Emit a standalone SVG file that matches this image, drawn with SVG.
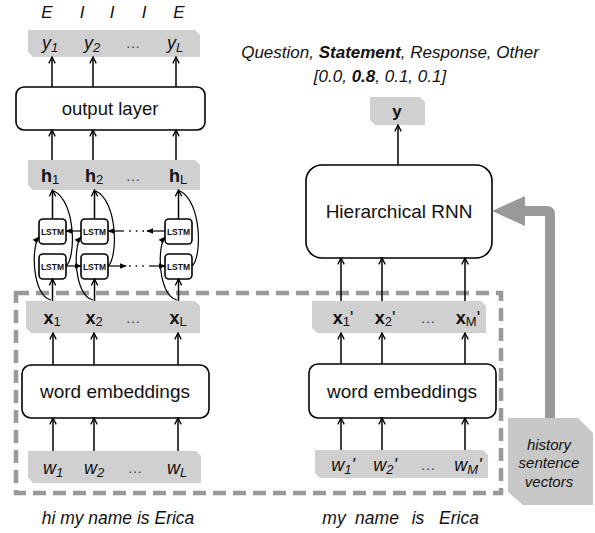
<svg xmlns="http://www.w3.org/2000/svg" width="595" height="533" viewBox="0 0 595 533">
<style>
text{font-family:"Liberation Sans",Arial,sans-serif;fill:#111}
.it{font-style:italic}
.b{font-weight:bold}
.lbl{font-size:18px}
.sub{font-size:13px}
.dots{font-size:15px;fill:#444}
.band{fill:#d0d0d0}
.box{fill:#fff;stroke:#000;stroke-width:1.6}
.lstm{fill:#fff;stroke:#000;stroke-width:1.6}
.lt{font-size:8.5px;font-weight:bold;text-anchor:middle}
.ar{fill:none;stroke:#000;stroke-width:1.5}
.cv{fill:none;stroke:#000;stroke-width:1.2}
.mid{text-anchor:middle}
.cap{font-size:17.5px;font-style:italic}
</style>
<defs>
<marker id="a" viewBox="0 0 10 10" refX="9" refY="5" markerWidth="8" markerHeight="8" markerUnits="userSpaceOnUse" orient="auto">
<path d="M1,1 L9,5 L1,9" fill="none" stroke="#000" stroke-width="1.6"/>
</marker>
<marker id="s" viewBox="0 0 10 10" refX="9" refY="5" markerWidth="7" markerHeight="7" markerUnits="userSpaceOnUse" orient="auto">
<path d="M0,1 L10,5 L0,9 Z" fill="#000"/>
</marker>
</defs>

<g id="dashed-frame">
<rect x="16" y="293" width="485" height="200" fill="none" stroke="#999" stroke-width="4.5" stroke-dasharray="13,7"/>
</g>

<g id="tags">
<text x="47" y="18" class="mid it" font-size="17">E</text>
<text x="82" y="18" class="mid it" font-size="17">I</text>
<text x="112" y="18" class="mid it" font-size="17">I</text>
<text x="144" y="18" class="mid it" font-size="17">I</text>
<text x="179" y="18" class="mid it" font-size="17">E</text>
</g>

<g id="y-band">
<path class="band" d="M28,30 H195 L200,35 V57 H33 L28,52 Z"/>
<text x="50" y="49" class="lbl it mid">y<tspan class="sub" dy="3">1</tspan></text>
<text x="92" y="49" class="lbl it mid">y<tspan class="sub" dy="3">2</tspan></text>
<text x="133" y="48" class="dots mid">…</text>
<text x="175" y="49" class="lbl it mid">y<tspan class="sub" dy="3">L</tspan></text>
</g>

<g id="output-layer">
<rect class="box" x="16" y="87" width="189" height="43" rx="8"/>
<text x="110" y="115" class="mid" font-size="18.5">output layer</text>
</g>

<g id="h-band">
<path class="band" d="M28,160 H195 L200,165 V190 H33 L28,185 Z"/>
<text x="50" y="182" class="lbl mid"><tspan class="b">h</tspan><tspan class="sub" dy="2">1</tspan></text>
<text x="94" y="182" class="lbl mid"><tspan class="b">h</tspan><tspan class="sub" dy="2">2</tspan></text>
<text x="133" y="181" class="dots mid">…</text>
<text x="178" y="182" class="lbl mid"><tspan class="b">h</tspan><tspan class="sub" dy="2">L</tspan></text>
</g>

<g id="lstm-bwd-1"><rect class="lstm" x="39" y="219" width="27" height="25" rx="4"/><text x="52.5" y="234.5" class="lt">LSTM</text></g>
<g id="lstm-bwd-2"><rect class="lstm" x="81" y="219" width="27" height="25" rx="4"/><text x="94.5" y="234.5" class="lt">LSTM</text></g>
<g id="lstm-bwd-L"><rect class="lstm" x="165" y="219" width="27" height="25" rx="4"/><text x="178.5" y="234.5" class="lt">LSTM</text></g>
<g id="lstm-fwd-1"><rect class="lstm" x="39" y="254" width="27" height="25" rx="4"/><text x="52.5" y="269.5" class="lt">LSTM</text></g>
<g id="lstm-fwd-2"><rect class="lstm" x="81" y="254" width="27" height="25" rx="4"/><text x="94.5" y="269.5" class="lt">LSTM</text></g>
<g id="lstm-fwd-L"><rect class="lstm" x="165" y="254" width="27" height="25" rx="4"/><text x="178.5" y="269.5" class="lt">LSTM</text></g>

<g id="x-band">
<path class="band" d="M26,301 H195 L200,306 V333 H31 L26,328 Z"/>
<text x="52" y="324" class="lbl mid"><tspan class="b">x</tspan><tspan class="sub" dy="2">1</tspan></text>
<text x="94" y="324" class="lbl mid"><tspan class="b">x</tspan><tspan class="sub" dy="2">2</tspan></text>
<text x="133" y="323" class="dots mid">…</text>
<text x="178" y="324" class="lbl mid"><tspan class="b">x</tspan><tspan class="sub" dy="2">L</tspan></text>
</g>

<g id="word-emb-left">
<rect class="box" x="22" y="365" width="187" height="53" rx="9"/>
<text x="115" y="398" class="mid" font-size="19">word embeddings</text>
</g>

<g id="w-band">
<path class="band" d="M28,451 H196 L201,456 V483 H33 L28,478 Z"/>
<text x="53" y="474" class="lbl it mid">w<tspan class="sub" dy="3">1</tspan></text>
<text x="94" y="474" class="lbl it mid">w<tspan class="sub" dy="3">2</tspan></text>
<text x="135" y="473" class="dots mid">…</text>
<text x="177" y="474" class="lbl it mid">w<tspan class="sub" dy="3">L</tspan></text>
</g>

<g id="caption-left">
<text x="118" y="524" class="mid cap">hi my name is Erica</text>
</g>

<g id="title">
<text x="390" y="58" class="mid it" font-size="17">Question, <tspan class="b">Statement</tspan>, Response, Other</text>
<text x="380" y="82" class="mid it" font-size="17">[0.0, <tspan class="b">0.8</tspan>, 0.1, 0.1]</text>
</g>

<g id="y-out">
<path class="band" d="M370,97 H420 L425,102 V125 H375 L370,120 Z"/>
<text x="397" y="117" class="mid b" font-size="17">y</text>
</g>

<g id="hrnn">
<rect class="box" x="306" y="165" width="186" height="93" rx="16"/>
<text x="399" y="218" class="mid" font-size="19">Hierarchical RNN</text>
</g>

<g id="xp-band">
<path class="band" d="M312,301 H481 L486,306 V333 H317 L312,328 Z"/>
<text x="343" y="324" class="lbl mid"><tspan class="b">x</tspan><tspan class="sub" dy="2">1</tspan><tspan dy="-2">'</tspan></text>
<text x="385" y="324" class="lbl mid"><tspan class="b">x</tspan><tspan class="sub" dy="2">2</tspan><tspan dy="-2">'</tspan></text>
<text x="428" y="323" class="dots mid">…</text>
<text x="468" y="324" class="lbl mid"><tspan class="b">x</tspan><tspan class="sub" dy="2">M</tspan><tspan dy="-2">'</tspan></text>
</g>

<g id="word-emb-right">
<rect class="box" x="309" y="364" width="187" height="54" rx="9"/>
<text x="402" y="398" class="mid" font-size="19">word embeddings</text>
</g>

<g id="wp-band">
<path class="band" d="M315,450 H483 L488,455 V478 H320 L315,473 Z"/>
<text x="343" y="471" class="lbl it mid">w<tspan class="sub" dy="3">1</tspan><tspan dy="-3">'</tspan></text>
<text x="385" y="471" class="lbl it mid">w<tspan class="sub" dy="3">2</tspan><tspan dy="-3">'</tspan></text>
<text x="428" y="470" class="dots mid">…</text>
<text x="468" y="471" class="lbl it mid">w<tspan class="sub" dy="3">M</tspan><tspan dy="-3">'</tspan></text>
</g>

<g id="caption-right">
<text x="334" y="524" class="mid cap">my</text>
<text x="377" y="524" class="mid cap">name</text>
<text x="418" y="524" class="mid cap">is</text>
<text x="459" y="524" class="mid cap">Erica</text>
</g>

<g id="history">
<path d="M508,418 H578 L593,433 V505 H523 L508,492 Z" fill="#c8c8c8"/>
<text x="549" y="450" class="mid it" font-size="15">history</text>
<text x="549" y="468" class="mid it" font-size="15">sentence</text>
<text x="549" y="487" class="mid it" font-size="15">vectors</text>
</g>

<g id="connectors">
<line class="ar" x1="52" y1="87" x2="52" y2="57" marker-end="url(#a)"/>
<line class="ar" x1="93" y1="87" x2="93" y2="57" marker-end="url(#a)"/>
<line class="ar" x1="176" y1="87" x2="176" y2="57" marker-end="url(#a)"/>
<line class="ar" x1="52" y1="160" x2="52" y2="130" marker-end="url(#a)"/>
<line class="ar" x1="93" y1="160" x2="93" y2="130" marker-end="url(#a)"/>
<line class="ar" x1="176" y1="160" x2="176" y2="130" marker-end="url(#a)"/>
<line class="ar" x1="52.5" y1="219" x2="52.5" y2="190" marker-end="url(#a)"/>
<line class="ar" x1="94.5" y1="219" x2="94.5" y2="190" marker-end="url(#a)"/>
<line class="ar" x1="178.5" y1="219" x2="178.5" y2="190" marker-end="url(#a)"/>
<path class="cv" d="M66,266 C76,258 76,202 54,191"/>
<path class="cv" d="M108,266 C118,258 118,202 96,191"/>
<path class="cv" d="M192,266 C202,258 202,202 180,191"/>
<line class="ar" x1="52.5" y1="301" x2="52.5" y2="279" marker-end="url(#a)"/>
<line class="ar" x1="94.5" y1="301" x2="94.5" y2="279" marker-end="url(#a)"/>
<line class="ar" x1="178.5" y1="301" x2="178.5" y2="279" marker-end="url(#a)"/>
<path class="cv" d="M51,300 C32,296 31,246 39,237" marker-end="url(#s)"/>
<path class="cv" d="M93,300 C74,296 73,246 81,237" marker-end="url(#s)"/>
<path class="cv" d="M177,300 C158,296 157,246 165,237" marker-end="url(#s)"/>
<line class="cv" x1="66" y1="266" x2="81" y2="266" marker-end="url(#s)"/>
<line class="cv" x1="108" y1="266" x2="126" y2="266" marker-end="url(#s)"/>
<line x1="129" y1="266" x2="146" y2="266" stroke="#000" stroke-width="1.6" stroke-dasharray="1.6,5"/>
<line class="cv" x1="149" y1="266" x2="165" y2="266" marker-end="url(#s)"/>
<line class="cv" x1="165" y1="231" x2="147" y2="231" marker-end="url(#s)"/>
<line x1="144" y1="231" x2="127" y2="231" stroke="#000" stroke-width="1.6" stroke-dasharray="1.6,5"/>
<line class="cv" x1="124" y1="231" x2="108" y2="231" marker-end="url(#s)"/>
<line class="cv" x1="81" y1="231" x2="66" y2="231" marker-end="url(#s)"/>
<line class="ar" x1="53" y1="451" x2="53" y2="418" marker-end="url(#a)"/>
<line class="ar" x1="94" y1="451" x2="94" y2="418" marker-end="url(#a)"/>
<line class="ar" x1="178" y1="451" x2="178" y2="418" marker-end="url(#a)"/>
<line class="ar" x1="53" y1="365" x2="53" y2="333" marker-end="url(#a)"/>
<line class="ar" x1="94" y1="365" x2="94" y2="333" marker-end="url(#a)"/>
<line class="ar" x1="178" y1="365" x2="178" y2="333" marker-end="url(#a)"/>
<line class="ar" x1="341" y1="450" x2="341" y2="418" marker-end="url(#a)"/>
<line class="ar" x1="382" y1="450" x2="382" y2="418" marker-end="url(#a)"/>
<line class="ar" x1="465" y1="450" x2="465" y2="418" marker-end="url(#a)"/>
<line class="ar" x1="341" y1="364" x2="341" y2="333" marker-end="url(#a)"/>
<line class="ar" x1="382" y1="364" x2="382" y2="333" marker-end="url(#a)"/>
<line class="ar" x1="465" y1="364" x2="465" y2="333" marker-end="url(#a)"/>
<line class="ar" x1="341" y1="301" x2="341" y2="258" marker-end="url(#a)"/>
<line class="ar" x1="382" y1="301" x2="382" y2="258" marker-end="url(#a)"/>
<line class="ar" x1="465" y1="301" x2="465" y2="258" marker-end="url(#a)"/>
<line class="ar" x1="398" y1="165" x2="398" y2="125" marker-end="url(#a)"/>
<path d="M550,418 V214 Q550,211 547,211 H523" fill="none" stroke="#999" stroke-width="10"/>
<path d="M492,211 L525,196 L525,226 Z" fill="#999"/>
</g>
</svg>
